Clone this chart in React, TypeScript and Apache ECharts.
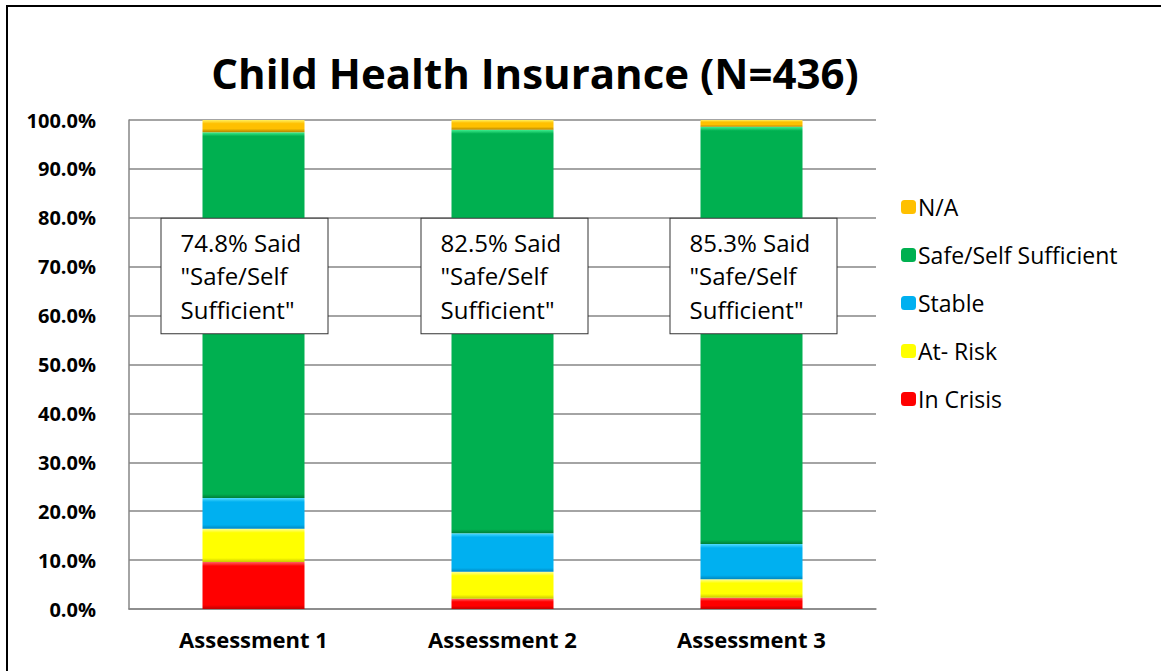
import React, { useEffect, useRef } from "react";
import * as echarts from "echarts";

const categories = ["Assessment 1", "Assessment 2", "Assessment 3"];
const inCrisis = [9.6, 2.1, 2.3];
const atRisk = [6.8, 5.5, 3.8];
const stable = [6.3, 7.9, 7.2];
const safeSelf = [74.8, 82.5, 85.3];
const notApplicable = [2.5, 2.0, 1.4];
const yTicks = [0, 10, 20, 30, 40, 50, 60, 70, 80, 90, 100];
const annotationTexts = [
  '74.8% Said\n"Safe/Self\nSufficient"',
  '82.5% Said\n"Safe/Self\nSufficient"',
  '85.3% Said\n"Safe/Self\nSufficient"',
];
const annotationLevel = 68.1;
const legendOrder = ["N/A", "Safe/Self Sufficient", "Stable", "At- Risk", "In Crisis"];

const FONT = "'Open Sans', sans-serif";
const PX_PER_UNIT = 4.89;

function bevel(light: string, base: string, dark: string, v: number) {
  const h = Math.max(v * PX_PER_UNIT, 1);
  const f = Math.min(4 / h, 0.3);
  return new echarts.graphic.LinearGradient(0, 0, 0, 1, [
    { offset: 0, color: light },
    { offset: f, color: base },
    { offset: 1 - f, color: base },
    { offset: 1, color: dark },
  ]);
}

export default function App() {
  const ref = useRef<HTMLDivElement>(null);
  useEffect(() => {
    document.body.style.margin = "0";
    document.body.style.overflow = "hidden";
    const chart = echarts.init(ref.current!, null, { renderer: "svg" });
    const mk = (name: string, data: number[], light: string, base: string, dark: string, extra: any = {}) => ({
      name,
      type: "bar",
      stack: "total",
      barWidth: 102,
      data: data.map((v) => ({ value: v, itemStyle: { color: bevel(light, base, dark, v) } })),
      itemStyle: { color: base },
      emphasis: { disabled: true },
      ...extra,
    });
    const offsets = [-9, 2, 2];
    chart.setOption({
      animation: false,
      backgroundColor: "#ffffff",
      graphic: [
        {
          type: "rect",
          shape: { x: 7, y: 6, width: 1200, height: 720 },
          style: { fill: "none", stroke: "#000", lineWidth: 2 },
          z: 100,
        },
        {
          type: "text",
          x: 535,
          y: 72,
          style: {
            text: "Child Health Insurance (N=436)",
            align: "center",
            verticalAlign: "middle",
            font: `bold 42px ${FONT}`,
            fill: "#000",
          },
        },
      ],
      legend: {
        orient: "vertical",
        left: 896,
        top: 190,
        data: legendOrder,
        itemWidth: 15,
        itemHeight: 14,
        itemGap: 24,
        textStyle: { fontSize: 23, fontFamily: FONT, color: "#000", lineHeight: 24, padding: [0, 0, 0, -3] },
        selectedMode: false,
      },
      grid: { left: 129, right: 285, top: 120, bottom: 62 },
      xAxis: {
        type: "category",
        data: categories,
        axisLine: { lineStyle: { color: "#868686", width: 1.5 } },
        axisTick: { show: false },
        axisLabel: { fontSize: 22, fontWeight: "bold", fontFamily: FONT, color: "#000", margin: 19 },
      },
      yAxis: {
        type: "value",
        min: yTicks[0],
        max: yTicks[yTicks.length - 1],
        interval: 10,
        axisLine: { show: true, lineStyle: { color: "#868686", width: 1.5 } },
        axisTick: { show: false },
        splitLine: { lineStyle: { color: "#868686", width: 1.5 } },
        axisLabel: {
          fontSize: 20,
          fontWeight: "bold",
          fontFamily: FONT,
          color: "#000",
          margin: 33,
          formatter: (v: number) => v.toFixed(1) + "%",
        },
      },
      series: [
        mk("In Crisis", inCrisis, "#FF6060", "#FF0000", "#C00000"),
        mk("At- Risk", atRisk, "#FFFF90", "#FFFF00", "#C8C800"),
        mk("Stable", stable, "#50DCFF", "#00B0F0", "#0088C0"),
        mk("Safe/Self Sufficient", safeSelf, "#40F090", "#00B050", "#008038", {
          markPoint: {
            symbol: "rect",
            symbolSize: 0,
            silent: true,
            data: categories.map((c, i) => ({
              coord: [c, annotationLevel],
              value: annotationTexts[i],
              label: { offset: [-83 + offsets[i], 0] },
            })),
            label: {
              show: true,
              position: "inside",
              formatter: (p: any) => p.value,
              align: "left",
              verticalAlign: "middle",
              color: "#000",
              fontSize: 24,
              fontFamily: FONT,
              lineHeight: 33.5,
              backgroundColor: "#fff",
              borderColor: "#333",
              borderWidth: 1,
              padding: [14, 19, 0, 19],
              width: 128,
            },
          },
        }),
        mk("N/A", notApplicable, "#FFF060", "#FFC000", "#B08400"),
      ],
    });
    return () => chart.dispose();
  }, []);
  return <div ref={ref} style={{ width: 1161, height: 671 }} />;
}
